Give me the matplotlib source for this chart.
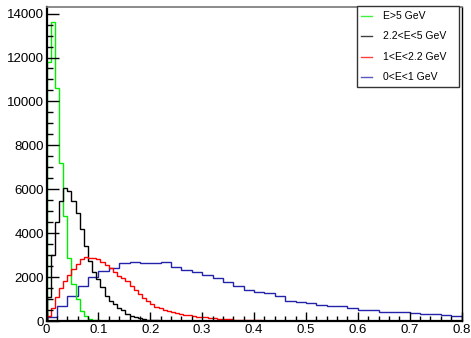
import numpy as np
import matplotlib.pyplot as plt
from matplotlib.patches import Rectangle
from matplotlib.lines import Line2D
from matplotlib.ticker import MultipleLocator

plt.rcParams['font.family'] = ['Liberation Sans', 'DejaVu Sans']

# bin edges: 100 bins for the three high-energy samples, 40 bins for the lowest one
fine_edges = np.linspace(0, 0.8, 101)
coarse_edges = np.linspace(0, 0.8, 41)

# E > 5 GeV
green_vals = [11800, 13620, 10620, 7180, 4800, 2850, 1680, 1000, 470, 240,
              110, 60, 35, 20, 12, 8, 5, 3, 2, 1] + [0] * 80

# 2.2 < E < 5 GeV
black_vals = [1100, 3000, 4500, 5450, 6050, 5920, 5470, 4940, 4180, 3420,
              2740, 2210, 1910, 1530, 1150, 920, 770, 600, 480, 330,
              240, 170, 120, 90, 60, 45, 30, 22, 15, 10,
              8, 6, 4, 3, 2, 2, 1, 1] + [0] * 62

# 1 < E < 2.2 GeV
red_vals = [240, 600, 1100, 1500, 1800, 2100, 2350, 2600, 2820, 2920,
            2880, 2850, 2820, 2700, 2560, 2420, 2250, 2060, 1950, 1820,
            1600, 1400, 1220, 1060, 920, 780, 660, 570, 500, 450,
            400, 360, 320, 290, 260, 230, 200, 180, 160, 140,
            120, 100, 90, 80, 70, 60, 52, 45, 40, 35,
            30, 26, 22, 19, 16, 14, 12, 10, 8, 7,
            6, 5, 4, 3, 3, 2, 2, 1, 1, 1] + [0] * 30

# 0 < E < 1 GeV
blue_vals = [180, 700, 1150, 1600, 2000, 2290, 2400, 2620, 2670, 2640,
             2630, 2670, 2450, 2340, 2210, 2090, 1940, 1760, 1580, 1420,
             1300, 1270, 1150, 930, 850, 800, 730, 700, 700, 580,
             500, 500, 420, 420, 420, 360, 320, 320, 290, 240]

labels = ['E>5 GeV', '2.2<E<5 GeV', '1<E<2.2 GeV', '0<E<1 GeV']
colors = ['#00ee00', 'black', '#ff0000', '#2222aa']

fig = plt.figure(figsize=(4.71, 3.38), dpi=100)
ax = fig.add_axes([46.5 / 471, 17 / 338, 415 / 471, 314 / 338])

ax.stairs(blue_vals, coarse_edges, color=colors[3], lw=1.0)
ax.stairs(green_vals, fine_edges, color=colors[0], lw=1.0)
ax.stairs(black_vals, fine_edges, color=colors[1], lw=1.0)
ax.stairs(red_vals, fine_edges, color=colors[2], lw=1.0)

ax.set_xlim(0, 0.8)
ax.set_ylim(0, 14300)

ax.xaxis.set_major_locator(MultipleLocator(0.1))
ax.xaxis.set_minor_locator(MultipleLocator(0.02))
ax.yaxis.set_major_locator(MultipleLocator(2000))
ax.yaxis.set_minor_locator(MultipleLocator(500))
ax.xaxis.set_major_formatter(plt.FuncFormatter(lambda v, p: '0' if v == 0 else f'{v:g}'))

ax.tick_params(axis='y', which='major', direction='in', length=8.6, width=1.0,
               labelsize=9.5, pad=2)
ax.tick_params(axis='y', which='minor', direction='in', length=4.3, width=1.0)
ax.tick_params(axis='x', which='major', direction='in', length=6.7, width=1.0,
               labelsize=9.5, pad=2.5)
ax.tick_params(axis='x', which='minor', direction='in', length=3.4, width=1.0)

ax.spines['left'].set_linewidth(1.6)
ax.spines['bottom'].set_linewidth(1.6)
ax.spines['top'].set_color('#777777')
ax.spines['top'].set_linewidth(1.2)
ax.spines['right'].set_linewidth(1.0)

# legend box, drawn by hand to match the original placement
ax.add_patch(Rectangle((0.749, 0.746), 0.246, 0.257, transform=ax.transAxes,
                       facecolor='white', edgecolor='#333333', lw=1.0,
                       clip_on=False, zorder=5))
ys = [0.971, 0.909, 0.842, 0.777]
for y, lab, c in zip(ys, labels, colors):
    ax.add_line(Line2D([0.757, 0.784], [y, y], transform=ax.transAxes,
                       color=c, lw=1.0, alpha=0.75, clip_on=False, zorder=6))
    ax.text(0.810, y, lab, transform=ax.transAxes, fontsize=7.5,
            va='center', ha='left', zorder=6)

plt.savefig('out.png', dpi=100)
